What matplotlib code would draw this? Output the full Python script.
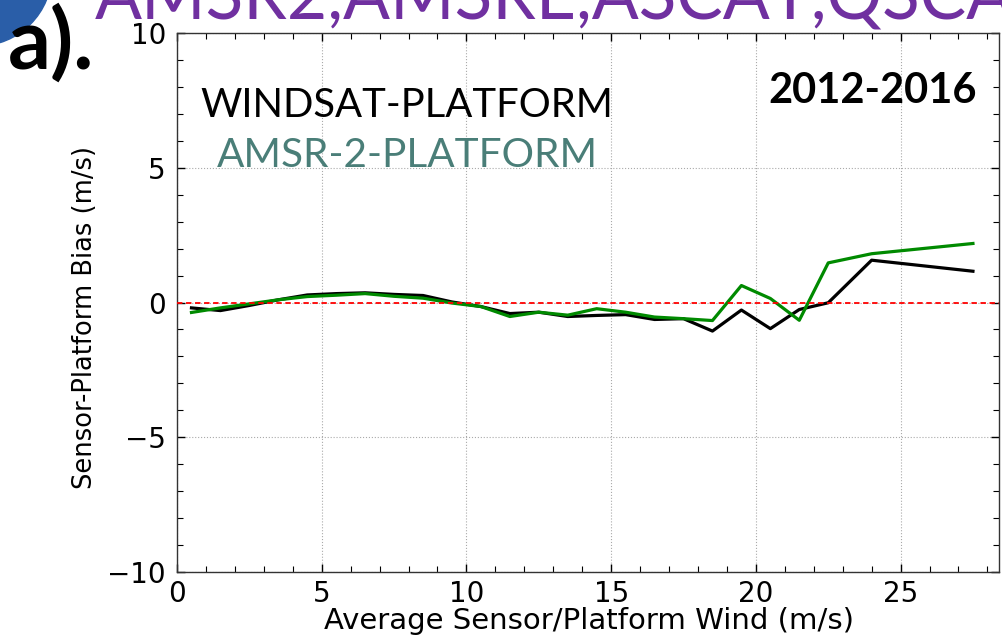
import matplotlib
matplotlib.use("Agg")
import matplotlib.pyplot as plt
from matplotlib.patches import Circle
from matplotlib.ticker import MultipleLocator

# Data
wind = [0.5, 1.5, 2.5, 3.5, 4.5, 5.5, 6.5, 7.5, 8.5, 9.5, 10.5, 11.5, 12.5,
        13.5, 14.5, 15.5, 16.5, 17.5, 18.5, 19.5, 20.5, 21.5, 22.5, 24.0, 27.5]
windsat_bias = [-0.20, -0.30, -0.11, 0.10, 0.28, 0.33, 0.36, 0.30, 0.26, 0.02,
                -0.15, -0.41, -0.36, -0.52, -0.48, -0.45, -0.63, -0.60, -1.06,
                -0.28, -0.97, -0.26, -0.01, 1.57, 1.16]
amsr2_bias = [-0.37, -0.20, -0.05, 0.10, 0.22, 0.27, 0.33, 0.23, 0.16, -0.02,
              -0.15, -0.52, -0.36, -0.47, -0.23, -0.36, -0.54, -0.60, -0.67,
              0.63, 0.15, -0.66, 1.47, 1.81, 2.19]

xticks = [0, 5, 10, 15, 20, 25]
yticks = [-10, -5, 0, 5, 10]

W, H = 1003, 635
fig = plt.figure(figsize=(W / 100, H / 100), dpi=100)
ax = fig.add_axes([177 / W, 1 - 572 / H, (999 - 177) / W, (572 - 33) / H])

ax.plot(wind, windsat_bias, color="black", lw=2.3, zorder=3)
ax.plot(wind, amsr2_bias, color="#008a00", lw=2.3, zorder=4)
ax.axhline(0, color="red", lw=1.3, ls=(0, (3, 2)), zorder=5)

ax.set_xlim(0, 28.4)
ax.set_ylim(-10, 10)
ax.set_xticks(xticks)
ax.set_yticks(yticks)
ax.xaxis.set_minor_locator(MultipleLocator(1))
ax.yaxis.set_minor_locator(MultipleLocator(1))
ax.tick_params(which="both", direction="in", top=True, right=True,
               labelsize=20)
ax.tick_params(axis="x", which="major", pad=6)
ax.tick_params(axis="y", which="major", pad=8)
ax.tick_params(which="major", length=6, width=1)
ax.tick_params(which="minor", length=4, width=0.8)
for s in ax.spines.values():
    s.set_linewidth(1.0)
    s.set_color("#333333")
ax.grid(True, which="major", ls=":", color="#aaaaaa", lw=0.8)

ax.set_xlabel("Average Sensor/Platform Wind (m/s)", fontsize=21)
ax.xaxis.set_label_coords(589 / W, 0.0, transform=fig.transFigure)
ax.xaxis.label.set_verticalalignment("bottom")
ax.set_ylabel("Sensor-Platform Bias (m/s)", fontsize=18.5)
ax.yaxis.set_label_coords(85 / W, 0.5, transform=fig.transFigure)
ax.yaxis.label.set_verticalalignment("center")

# In-plot annotations
ax.text(200 / W, 1 - 117 / H, "WINDSAT-PLATFORM", transform=fig.transFigure,
        family="Lato", fontsize=28.8, color="black", va="baseline", ha="left")
ax.text(217 / W, 1 - 167 / H, "AMSR-2-PLATFORM", transform=fig.transFigure,
        family="Lato", fontsize=29.2, color="#4a7e78", va="baseline", ha="left")
ax.text(977 / W, 1 - 103 / H, "2012-2016", transform=fig.transFigure,
        family="Lato", fontsize=30, fontweight="bold", color="black",
        va="baseline", ha="right")

# Slide decorations: logo circle, panel label and cropped title
logo = Circle((-22, H + 28), 74, transform=None, color="#2a5ea8", zorder=0)
fig.patches.append(logo)
fig.text(8 / W, 1 - 69 / H, "a).", family="Lato", fontsize=61,
         fontweight="bold", color="black", va="baseline", ha="left")
fig.text(95 / W, 1 - 19 / H, "AMSR2,AMSRE,ASCAT,QSCAT", family="Lato",
         fontsize=50, color="#7030a0", va="baseline", ha="left")

fig.savefig("out.png", dpi=100)
